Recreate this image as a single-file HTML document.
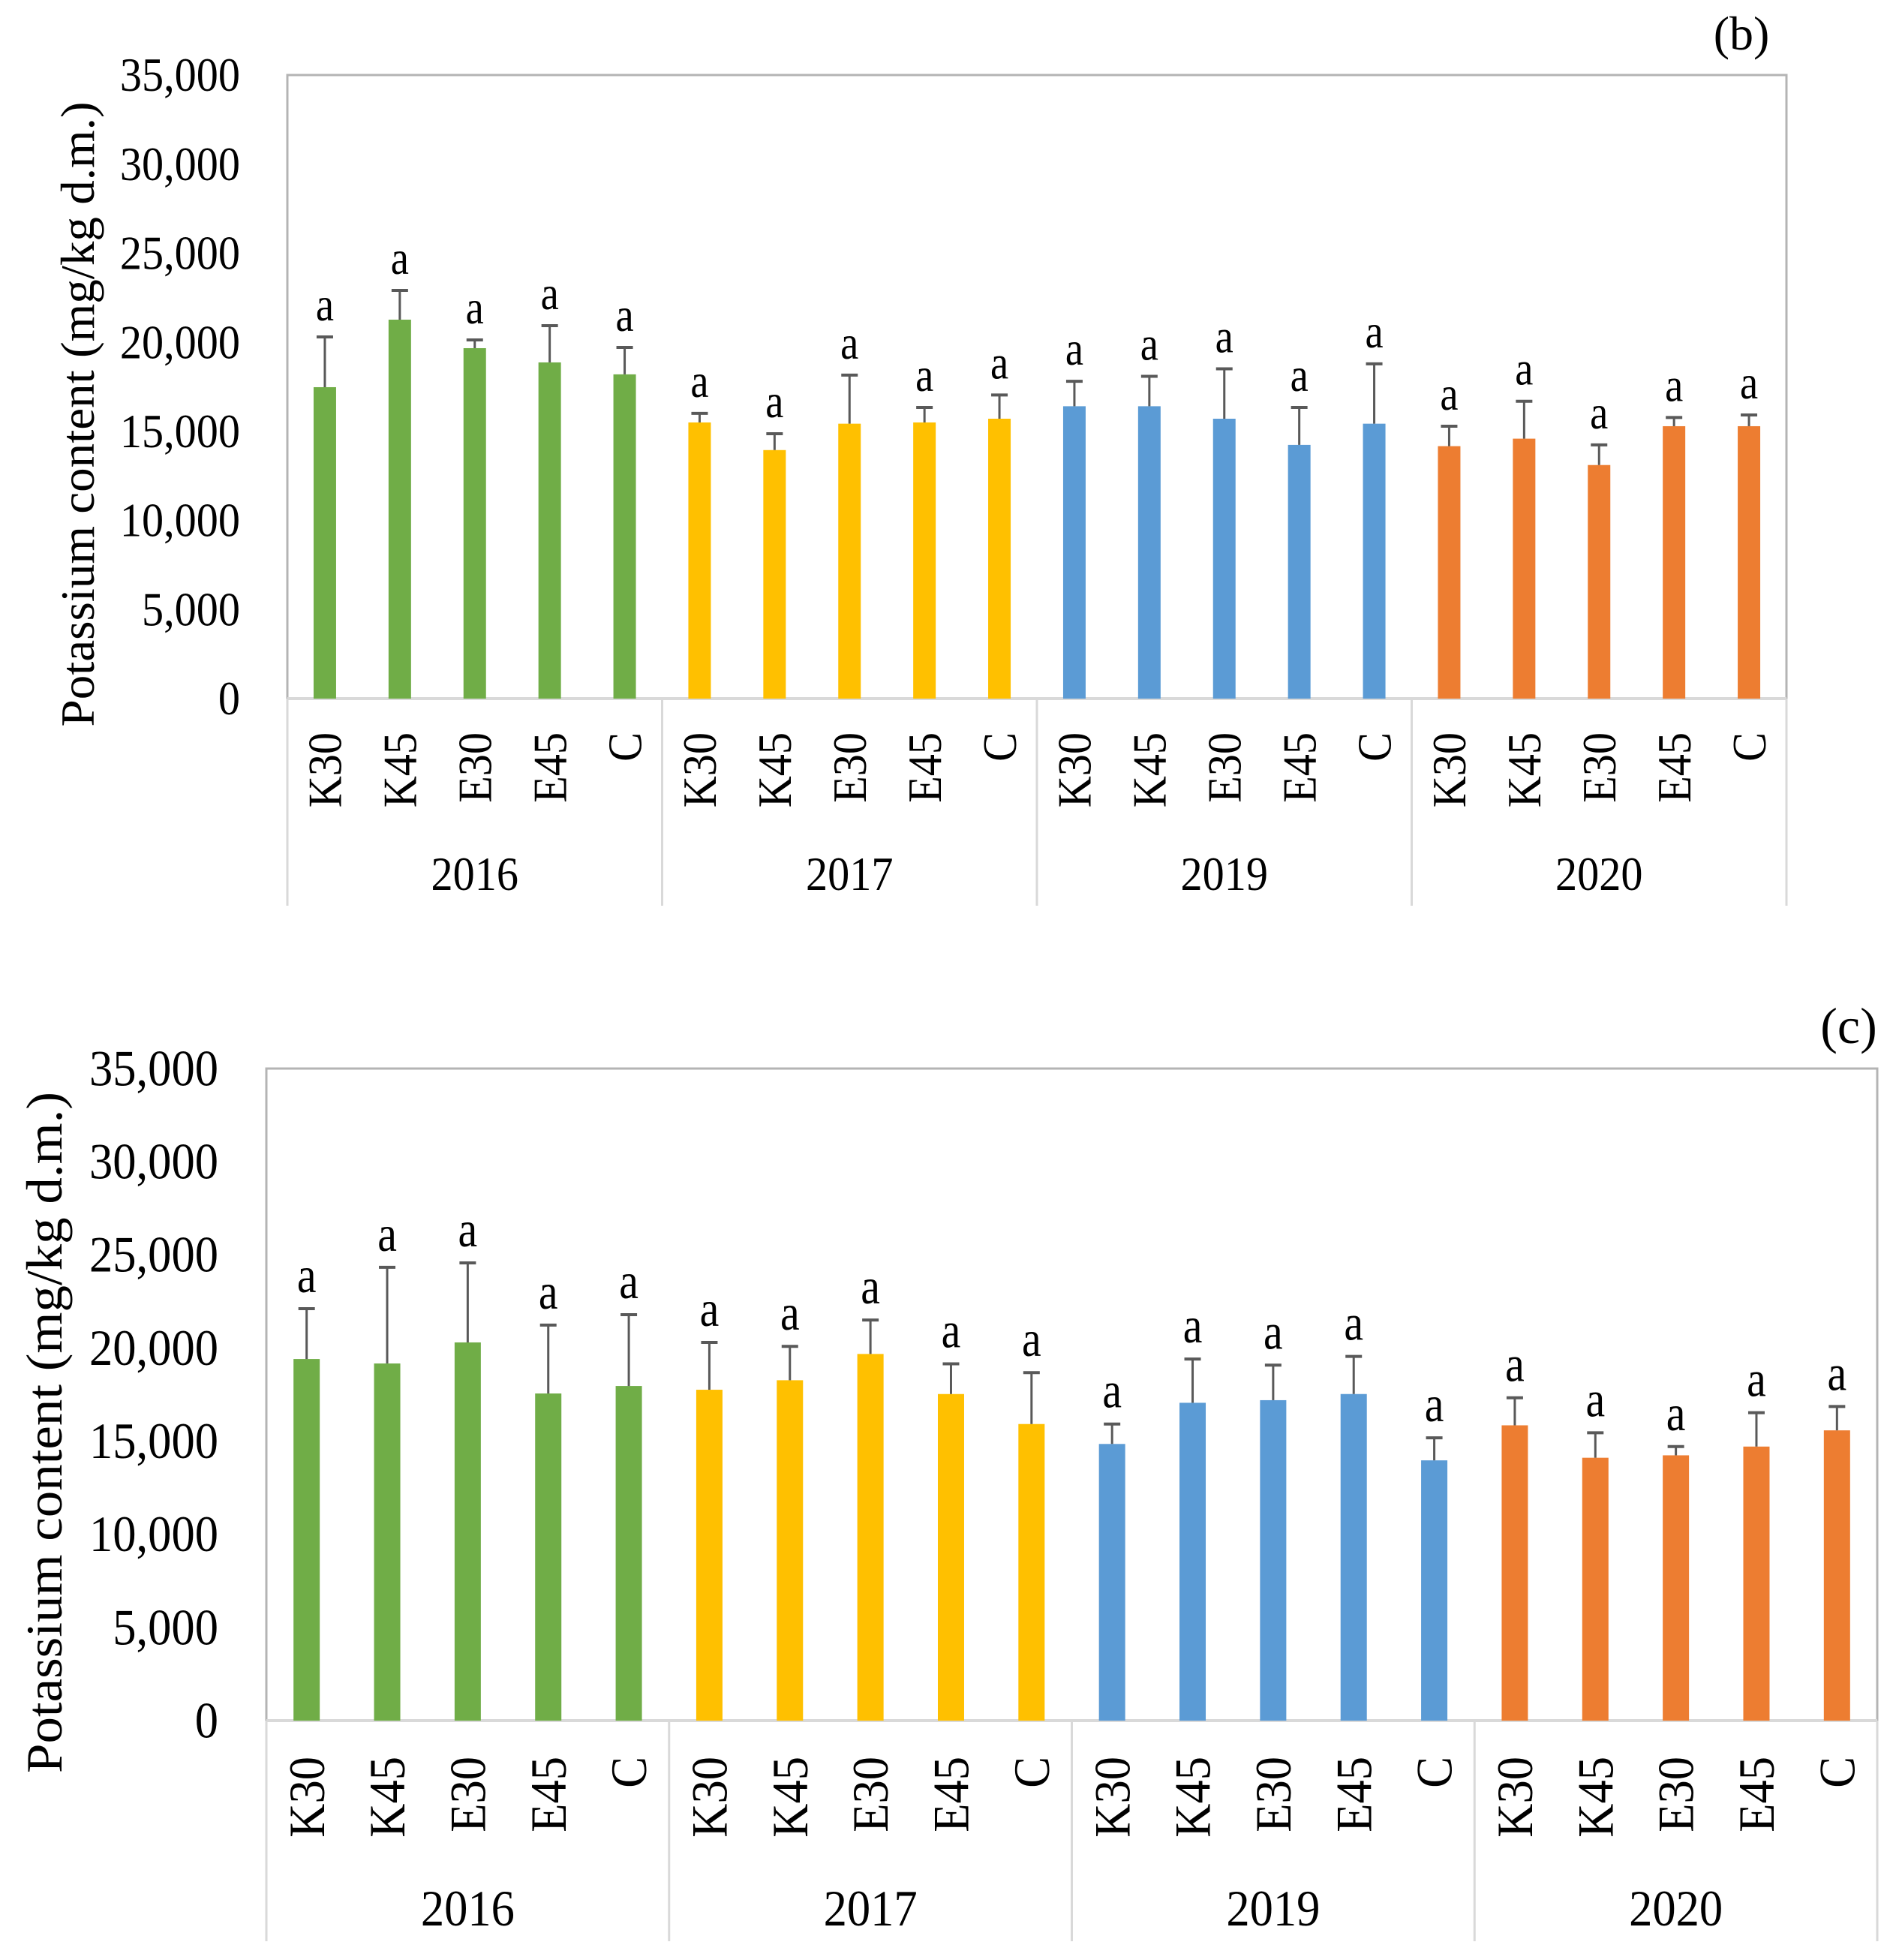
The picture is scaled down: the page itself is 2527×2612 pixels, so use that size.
<!DOCTYPE html>
<html><head><meta charset="utf-8"><style>
html,body{margin:0;padding:0;background:#fff;}
svg{display:block;}
text{font-family:"Liberation Serif",serif;fill:#000;}
</style></head><body>
<svg id="svg" width="2527" height="2612" viewBox="0 0 2527 2612" xmlns="http://www.w3.org/2000/svg"></svg>
<script>
const years = ["2016","2017","2019","2020"];
const treatments = ["K30","K45","E30","E45","C"];
const yearColors = ["#70ad47","#ffc000","#5b9bd5","#ed7d31"];
const tickValues = [0,5000,10000,15000,20000,25000,30000,35000];
const tickLabels = ["0","5,000","10,000","15,000","20,000","25,000","30,000","35,000"];
const letters = ["a","a","a","a","a","a","a","a","a","a","a","a","a","a","a","a","a","a","a","a"];
// Panel (b)
const bMeans = [17480,21270,19670,18870,18200, 15500,13950,15430,15500,15710, 16410,16410,15710,14240,15430, 14170,14590,13110,15290,15290];
const bUpper = [20300,22910,20130,20930,19710, 16010,14870,18160,16340,17040, 17810,18090,18510,16340,18790, 15290,16690,14240,15780,15920];
// Panel (c)
const cMeans = [19410,19170,20300,17560,17960, 17760,18270,19680,17530,15920, 14850,17060,17200,17530,13970, 15850,14110,14240,14710,15580];
const cUpper = [22110,24330,24570,21230,21790, 20300,20090,21500,19150,18680, 15920,19410,19080,19550,15180, 17330,15450,14710,16530,16860];

const NS="http://www.w3.org/2000/svg";
const svg=document.getElementById('svg');
function el(tag,attrs,parent){const e=document.createElementNS(NS,tag);for(const k in attrs)e.setAttribute(k,attrs[k]);(parent||svg).appendChild(e);return e;}

function drawPanel(cfg,means,upper){
  const g=el('g',{});
  
  
  const yMax=35000;
  const yS=v=>cfg.zero-(v/yMax)*(cfg.zero-cfg.top);
  const groupW=(cfg.right-cfg.left)/years.length;
  const slot=groupW/treatments.length;
  // plot frame
  const frame=el('rect',{x:cfg.left,y:cfg.top,width:cfg.right-cfg.left,height:cfg.zero-cfg.top,fill:'none',stroke:'#b4b4b4','stroke-width':3},g);
  
  
  // category dividers
  for(let i=0;i<=years.length;i++){
    const x=cfg.left+i*groupW;
    const d=el('line',{x1:x,y1:cfg.zero,x2:x,y2:cfg.catBottom,stroke:'#d9d9d9','stroke-width':3},g);
    
    
  }
  const ax=el('line',{x1:cfg.left,y1:cfg.zero,x2:cfg.right,y2:cfg.zero,stroke:'#d9d9d9','stroke-width':4},g);
  
  
  // ticks
  tickValues.forEach((v,i)=>{
    const y=yS(v)+cfg.fs*0.33;
    const t=el('text',{transform:`translate(${cfg.tickX},${y}) scale(${cfg.sx},1)`,'text-anchor':'end','font-size':cfg.fs},g);
    t.textContent=tickLabels[i];
    
    
  });
  // bars
  means.forEach((v,i)=>{
    const gi=Math.floor(i/treatments.length), ti=i%treatments.length;
    const cx=cfg.left+gi*groupW+(ti+0.5)*slot;
    const top=yS(v);
    const b=el('rect',{x:cx-cfg.barW/2,y:top,width:cfg.barW,height:cfg.zero-top,fill:yearColors[gi]},g);
    
    
    const ey=yS(upper[i]);
    const e1=el('line',{x1:cx,y1:top,x2:cx,y2:ey,stroke:'#595959','stroke-width':3},g);
    
    
    const e2=el('line',{x1:cx-11,y1:ey,x2:cx+11,y2:ey,stroke:'#595959','stroke-width':4},g);
    
    
    const l=el('text',{transform:`translate(${cx},${ey-22}) scale(0.85,1)`,'text-anchor':'middle','font-size':cfg.fs},g);
    l.textContent=letters[i];
    
    
    const c=el('text',{transform:`translate(${cx+cfg.fs*0.34},${cfg.catTop}) rotate(-90) scale(${cfg.sx},1)`,'text-anchor':'end','font-size':cfg.fs},g);
    c.textContent=treatments[ti];
    
    
  });
  years.forEach((yr,gi)=>{
    const t=el('text',{transform:`translate(${cfg.left+(gi+0.5)*groupW},${cfg.yearY}) scale(${cfg.sx},1)`,'text-anchor':'middle','font-size':cfg.fs},g);
    t.textContent=yr;
    
    
  });
  const at=el('text',{transform:`translate(${cfg.titleX},${cfg.titleY}) rotate(-90)`,'text-anchor':'middle','font-size':cfg.fs,textLength:cfg.titleLen,lengthAdjust:'spacingAndGlyphs'},g);
  at.textContent='Potassium content (mg/kg d.m.)';
  
  
  const pl=el('text',{x:cfg.panelX,y:cfg.panelY,'text-anchor':'middle','font-size':cfg.fs},g);
  pl.textContent=cfg.panel;
  
  
}

drawPanel({name:'chart-b',left:383,right:2381,top:100,zero:931,catTop:976,catBottom:1207,yearY:1186,
  tickX:320,fs:64,sx:0.91,barW:30,titleX:125,titleY:552,titleLen:833,panel:'(b)',panelX:2321,panelY:66},bMeans,bUpper);
drawPanel({name:'chart-c',left:355,right:2502,top:1424,zero:2293,catTop:2341,catBottom:2587,yearY:2566,
  tickX:291,fs:68,sx:0.92,barW:35,titleX:82,titleY:1909,titleLen:908,panel:'(c)',panelX:2464,panelY:1390},cMeans,cUpper);
</script>
</body></html>
